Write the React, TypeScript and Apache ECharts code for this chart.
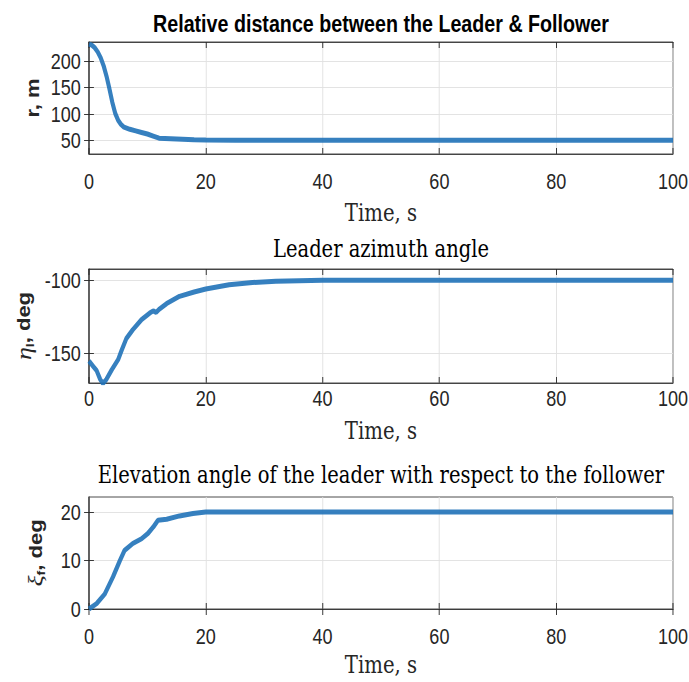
import React, { useEffect, useRef } from "react";
import * as echarts from "echarts";

// ---- Data ----
const T_R = [0, 0.5, 1, 1.5, 2, 2.5, 3, 3.5, 4, 4.5, 5, 5.5, 6, 7, 8, 9, 10, 11, 12, 14, 16, 18, 20, 25, 30, 100];
const R_VAL = [233, 231, 226, 218, 207, 192, 172, 148, 122, 101, 88, 80, 75, 71, 68, 65, 62, 58, 54, 53, 52, 51, 50.5, 50, 50, 50];
const R_TICKS = [50, 100, 150, 200];

const T_ETA = [0, 0.7, 1.3, 1.9, 2.4, 3, 3.9, 5, 5.6, 6.4, 7.5, 9, 10.4, 11, 11.5, 12, 13.3, 15.5, 18, 20, 24, 28, 32, 36, 40, 100];
const ETA_VAL = [-155.5, -159, -162, -168, -171, -168, -161.5, -154.5, -148, -140, -134, -127, -122.5, -121, -122, -120, -116, -111, -108, -106, -103, -101.5, -100.7, -100.3, -100, -100];
const ETA_TICKS = [-150, -100];

const T_XI = [0, 1.3, 2.7, 4.1, 5.3, 6.1, 7.5, 9, 10.1, 11, 11.8, 13.3, 15.5, 17.8, 20, 25, 100];
const XI_VAL = [0, 1.1, 3.1, 6.6, 10, 12.1, 13.5, 14.5, 15.6, 16.9, 18.3, 18.5, 19.2, 19.7, 20, 20, 20];
const XI_TICKS = [0, 10, 20];

const TITLES = [
  "Relative distance between the Leader & Follower",
  "Leader azimuth angle",
  "Elevation angle of the leader with respect to the follower",
];
const X_NAME = "Time, s";

const pairs = (t: number[], v: number[]) => t.map((x, i) => [x, v[i]]);

// The reference figure is horizontally compressed; draw wider and squeeze.
const SQUEEZE = 0.8202;
const W = 840;
const H = 682;

const SANS = "'Liberation Sans', Arial, sans-serif";
const SERIF = "'DejaVu Serif', 'Liberation Serif', serif";
const ISERIF = "'Liberation Serif', 'DejaVu Serif', serif";
const INK = "#262626";
const BOX = "#3a3a3a";
const GRIDC = "#e0e0e0";
const LINE = "#2072b8";

export default function App() {
  const ref = useRef<HTMLDivElement>(null);
  useEffect(() => {
    document.body.style.margin = "0";
    const chart = echarts.init(ref.current!, undefined, { renderer: "svg" });

    const left = 108.5;
    const width = 712;
    const panels = [
      { top: 42, height: 112, min: 24, max: 237, ticks: R_TICKS, data: pairs(T_R, R_VAL), labelMargin: 16, nameGap: 47, yGap: 55,
        yName: "{b|r, m}" },
      { top: 269, height: 114, min: -170.6, max: -92.2, ticks: ETA_TICKS, data: pairs(T_ETA, ETA_VAL), labelMargin: 4, nameGap: 36, yGap: 65,
        yName: "{e|η}{s|l}{b|, deg}" },
      { top: 497, height: 112, min: 0, max: 23.1, ticks: XI_TICKS, data: pairs(T_XI, XI_VAL), labelMargin: 16, nameGap: 44, yGap: 51,
        yName: "{e|ξ}{s|f}{b|, deg}" },
    ];
    const titleY = [24, 249, 475];

    const grid: any[] = [];
    const xAxis: any[] = [];
    const yAxis: any[] = [];
    const series: any[] = [];
    const rich = {
      b: { fontFamily: SANS, fontWeight: "bold", fontSize: 22, color: INK, lineHeight: 28, verticalAlign: "middle" },
      e: { fontFamily: ISERIF, fontStyle: "italic", fontSize: 26, color: INK, lineHeight: 28, verticalAlign: "middle" },
      s: { fontFamily: SANS, fontWeight: "bold", fontSize: 14, color: INK, lineHeight: 14, verticalAlign: "bottom" },
    };

    panels.forEach((p, i) => {
      grid.push({ left, top: p.top, width, height: p.height, show: true, borderColor: BOX, borderWidth: 1,
        backgroundColor: "#fff", outerBoundsMode: "none", containLabel: false });
      xAxis.push({
        type: "value", gridIndex: i, min: 0, max: 100, interval: 20, position: "bottom",
        name: X_NAME, nameLocation: "middle", nameGap: p.nameGap,
        nameTextStyle: { fontFamily: SERIF, fontSize: 24, color: INK },
        axisLine: { show: true, lineStyle: { color: BOX, width: 1 } },
        axisTick: { show: true, inside: true, length: 6, lineStyle: { color: INK } },
        axisLabel: { show: true, margin: p.labelMargin, fontFamily: SANS, fontSize: 22, color: INK },
        splitLine: { show: true, lineStyle: { color: GRIDC, width: 1 } },
      });
      xAxis.push({
        type: "value", gridIndex: i, min: 0, max: 100, interval: 20, position: "top",
        axisLine: { show: true, lineStyle: { color: BOX, width: 1 } },
        axisTick: { show: true, inside: true, length: 6, lineStyle: { color: INK } },
        axisLabel: { show: false }, splitLine: { show: false },
      });
      yAxis.push({
        type: "value", gridIndex: i, min: p.min, max: p.max, position: "left",
        name: p.yName, nameLocation: "middle", nameGap: p.yGap, nameRotate: 90, nameMoveOverlap: false,
        nameTextStyle: { rich },
        axisLine: { show: true, lineStyle: { color: BOX, width: 1 } },
        axisTick: { show: true, inside: true, length: 6, lineStyle: { color: INK }, customValues: p.ticks },
        axisLabel: { show: true, margin: 10, fontFamily: SANS, fontSize: 22, color: INK, customValues: p.ticks },
        splitLine: { show: true, lineStyle: { color: GRIDC, width: 1 } },
      });
      yAxis.push({
        type: "value", gridIndex: i, min: p.min, max: p.max, position: "right",
        axisLine: { show: true, lineStyle: { color: BOX, width: 1 } },
        axisTick: { show: true, inside: true, length: 6, lineStyle: { color: INK }, customValues: p.ticks },
        axisLabel: { show: false }, splitLine: { show: false },
      });
      series.push({
        type: "line", xAxisIndex: i * 2, yAxisIndex: i * 2, data: p.data,
        showSymbol: false, smooth: false, clip: true,
        lineStyle: { color: LINE, width: 5, opacity: 0.9 },
      });
    });

    const graphic = TITLES.map((t, i) => ({
      type: "text", x: 464.5, y: titleY[i],
      style: {
        text: t,
        fontFamily: i === 0 ? SANS : SERIF,
        fontWeight: i === 0 ? "bold" : "normal",
        fontSize: i === 0 ? 24 : 23.8,
        fill: "#000",
        align: "center", verticalAlign: "middle",
      },
    }));

    chart.setOption({
      animation: false,
      backgroundColor: "#fff",
      grid, xAxis, yAxis, series, graphic,
    });
    return () => chart.dispose();
  }, []);
  return (
    <div style={{ width: 689, height: H, overflow: "hidden", position: "relative", background: "#fff" }}>
      <div ref={ref} style={{ width: W, height: H, transform: `scaleX(${SQUEEZE})`, transformOrigin: "0 0" }} />
    </div>
  );
}
